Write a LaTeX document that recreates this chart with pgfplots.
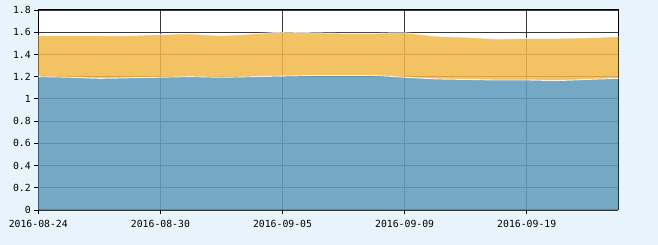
\documentclass[border=0pt]{standalone}
\usepackage{pgfplots}
\pgfplotsset{compat=1.18}
\usepackage{fontspec}
\newfontfamily\monofont{DejaVu Sans Mono}
\definecolor{bgc}{RGB}{232,244,252}
\definecolor{orf}{RGB}{242,184,72}
\definecolor{blf}{RGB}{99,157,190}
\definecolor{gridc}{RGB}{55,55,55}
\begin{document}
\begin{tikzpicture}[x=1pt,y=1pt]
\fill[bgc] (-38.3,-35) rectangle (619.7,210);
\useasboundingbox (-38.3,-35) rectangle (619.7,210);
\begin{axis}[
  at={(0,0)}, anchor=south west,
  width=580pt, height=200pt, scale only axis=true,
  xmin=0, xmax=19, ymin=0, ymax=1.8,
  xtick={0,4,8,12,16},
  xticklabels={2016-08-24,2016-08-30,2016-09-05,2016-09-09,2016-09-19},
  ytick={0,0.2,...,1.8},
  yticklabel style={/pgf/number format/fixed},
  /pgf/number format/assume math mode=true,
  ticklabel style={font=\monofont\fontsize{9.8}{10}\selectfont},
  tick align=outside, tick pos=left,
  major tick length=4pt,
  tick style={black, line width=0.8pt},
  axis line style={black, line width=1pt},
  grid=major,
  major grid style={gridc, line width=0.8pt},
  stack plots=y,
  xticklabel shift=3pt,
  yticklabel shift=0pt,
  axis background/.style={fill=white},
]
\addplot[draw=none, fill=blf, fill opacity=0.88] coordinates {
(0,1.200)(1,1.195)(2,1.185)(3,1.190)(4,1.195)(5,1.200)(6,1.195)(7,1.200)(8,1.205)(9,1.210)
(10,1.210)(11,1.210)(12,1.195)(13,1.180)(14,1.175)(15,1.170)(16,1.170)(17,1.165)(18,1.175)(19,1.185)
} \closedcycle;
\addplot[draw=none, fill=orf, fill opacity=0.85] coordinates {
(0,0.370)(1,0.375)(2,0.385)(3,0.380)(4,0.385)(5,0.385)(6,0.375)(7,0.385)(8,0.395)(9,0.385)
(10,0.380)(11,0.380)(12,0.400)(13,0.385)(14,0.380)(15,0.370)(16,0.375)(17,0.380)(18,0.375)(19,0.375)
} \closedcycle;
\end{axis}
\begin{axis}[
  at={(0,0)}, anchor=south west,
  width=580pt, height=200pt, scale only axis=true,
  xmin=0, xmax=19, ymin=0, ymax=1.8,
  axis lines=none, ticks=none,
]
\addplot[white, line width=0.9pt, opacity=0.85, smooth, tension=0.4] coordinates {
(0,1.200)(1,1.195)(2,1.185)(3,1.190)(4,1.195)(5,1.200)(6,1.195)(7,1.200)(8,1.205)(9,1.210)
(10,1.210)(11,1.210)(12,1.195)(13,1.180)(14,1.175)(15,1.170)(16,1.170)(17,1.165)(18,1.175)(19,1.185)
};
\addplot[white, line width=0.9pt, opacity=0.7, smooth, tension=0.4] coordinates {
(0,1.570)(1,1.570)(2,1.570)(3,1.570)(4,1.580)(5,1.585)(6,1.570)(7,1.585)(8,1.600)(9,1.595)
(10,1.590)(11,1.590)(12,1.595)(13,1.565)(14,1.555)(15,1.540)(16,1.545)(17,1.545)(18,1.550)(19,1.560)
};
\end{axis}
\end{tikzpicture}
\end{document}
